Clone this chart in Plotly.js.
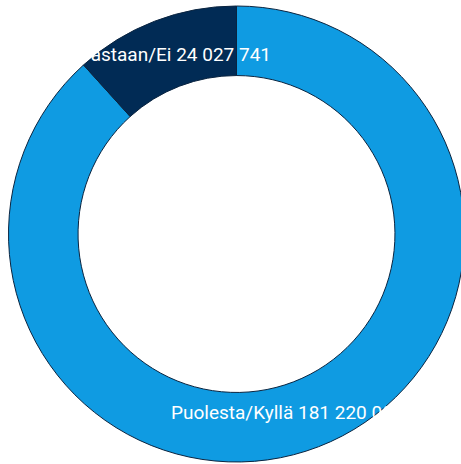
<!DOCTYPE html>
<html>
<head>
<meta charset="utf-8">
<script src="https://cdn.plot.ly/plotly-3.0.1.min.js"></script>
<style>
html,body{margin:0;padding:0;overflow:hidden;background:#fff;width:461px;height:464px;}
#chart{width:473px;height:468px;}
</style>
</head>
<body>
<div id="chart"></div>
<script>
const categories = ["Puolesta/Kyllä", "Vastaan/Ei"];
const values = [181220000, 24027741];
const colors = ["#0f9be2", "#012b55"];

function fmt(v){ return String(v).replace(/\B(?=(\d{3})+(?!\d))/g, " "); }
const labelTexts = categories.map((c,i) => c + " " + fmt(values[i]));

const W = 473, H = 468, ml = 8, mr = 8, mt = 6, mb = 6;
const pw = W - ml - mr, ph = H - mt - mb;
function px(x){ return (x - ml) / pw; }
function py(y){ return 1 - (y - mt) / ph; }

const trace = {
  type: "pie",
  labels: categories,
  values: values,
  hole: 0.695,
  sort: false,
  direction: "clockwise",
  rotation: 0,
  textinfo: "none",
  hoverinfo: "none",
  marker: { colors: colors, line: { color: "#0a2440", width: 1 } },
  showlegend: false
};

const font = { family: "Roboto, 'Open Sans', sans-serif", size: 19, color: "#ffffff" };

const layout = {
  width: W, height: H,
  margin: { l: ml, r: mr, t: mt, b: mb, pad: 0 },
  paper_bgcolor: "#ffffff",
  plot_bgcolor: "#ffffff",
  showlegend: false,
  annotations: [
    { text: labelTexts[1], xref: "paper", yref: "paper", x: px(273), y: py(54),
      xanchor: "right", yanchor: "middle", showarrow: false, font: font },
    { text: labelTexts[0], xref: "paper", yref: "paper", x: px(169), y: py(412),
      xanchor: "left", yanchor: "middle", showarrow: false, font: font }
  ]
};

Plotly.newPlot("chart", [trace], layout, { displayModeBar: false, staticPlot: true });
</script>
</body>
</html>
